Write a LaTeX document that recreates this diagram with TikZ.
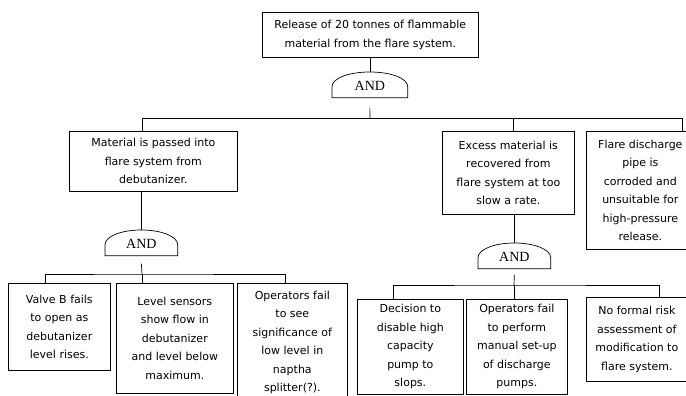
\documentclass[tikz,border=0pt]{standalone}
\usepackage{fontspec}
\newfontfamily\boxfont{DejaVu Sans}
\newfontfamily\gatefont{Liberation Serif}
\newcommand\gatelabel[1]{\raisebox{-1.5pt}[\height][\depth]{#1}}
\begin{document}
\begin{tikzpicture}[x=1pt,y=-1pt,
  line width=0.7pt,
  event/.style={draw, anchor=north west, align=center, inner sep=0pt,
    font=\boxfont\fontsize{11}{18.5}\selectfont},
  gate/.style={anchor=north west, inner sep=0pt,
    font=\gatefont\fontsize{14}{16}\selectfont},
  wire/.style={draw, line width=0.7pt},
  ]
\useasboundingbox (0,0) rectangle (686,396);
\clip (0,0) rectangle (686,396);

% top event
\node[event, minimum width=216pt, minimum height=45pt] (top) at (262,12)
  {Release of 20 tonnes of flammable\\material from the flare system.};
\node[gate, minimum width=75pt, minimum height=25pt] (g1) at (332,72) {\gatelabel{AND}};

% second level
\node[event, minimum width=168pt, minimum height=60pt] (mat) at (69,131)
  {Material is passed into\\flare system from\\debutanizer.};
\node[event, minimum width=132pt, minimum height=83pt] (exc) at (442,131)
  {Excess material is\\recovered from\\flare system at too\\slow a rate.};
\node[event, minimum width=108pt, minimum height=118pt] (flr) at (586,131)
  {Flare discharge\\pipe is\\corroded and\\unsuitable for\\high-pressure\\release.};
\node[gate, minimum width=72pt, minimum height=25pt] (g2) at (105,230) {\gatelabel{AND}};
\node[gate, minimum width=72pt, minimum height=25pt] (g3) at (478,243) {\gatelabel{AND}};

% basic events, left branch
\node[event, minimum width=102pt, minimum height=87pt] (b1) at (8,283)
  {Valve B fails\\to open as\\debutanizer\\level rises.};
\node[event, minimum width=117pt, minimum height=110pt] (b2) at (116,283)
  {Level sensors\\show flow in\\debutanizer\\and level below\\maximum.};
\node[event, minimum width=110pt, minimum height=118pt] (b3) at (237,283)
  {Operators fail\\to see\\significance of\\low level in\\naptha\\splitter(?).};

% basic events, right branch
\node[event, minimum width=106pt, minimum height=95pt] (d1) at (357,299)
  {Decision to\\disable high\\capacity\\pump to\\slops.};
\node[event, minimum width=101pt, minimum height=95pt] (d2) at (466,299)
  {Operators fail\\to perform\\manual set-up\\of discharge\\pumps.};
\node[event, minimum width=101pt, minimum height=84pt] (d3) at (586,297)
  {No formal risk\\assessment of\\modification to\\flare system.};

% AND gate outlines: straight sides, domed top, flat base
\foreach \g in {g1,g2,g3}
  \draw (\g.south west) -- ([yshift=11pt]\g.south west)
    .. controls ([yshift=-6.5pt]\g.north west) and ([xshift=16pt]\g.north west) .. (\g.north)
    .. controls ([xshift=-16pt]\g.north east) and ([yshift=-6.5pt]\g.north east) .. ([yshift=11pt]\g.south east)
    -- (\g.south east) -- cycle;

% bus junctions
\coordinate (j1) at (370,118.5);
\coordinate (j2) at (142,274);
\coordinate (j3) at (514,285);

% event-to-gate links
\draw[wire] (top.south -| g1.north) -- (g1.north);
\draw[wire] (mat.south -| g2.north) -- (g2.north);
\draw[wire] (exc.south -| g3.north) -- (g3.north);

% gate outputs to buses
\draw[wire] ([yshift=-10pt]g1.south) -- (j1);
\draw[wire] ([yshift=-8pt]g2.south) -- (j2);
\draw[wire] ([yshift=-6pt]g3.south) -- (j3);

% top bus
\draw[wire] ([xshift=-11pt]mat.north) |- (j1) -| ([xshift=42pt]flr.north);
\draw[wire] ([xshift=5pt]exc.north) |- (j1);

% left bus
\draw[wire] ([xshift=-14pt]b1.north) |- (j2) -| ([xshift=-7pt]b3.north);
\draw[wire] (j2) -- (j2 |- b2.north);

% right bus
\draw[wire] ([xshift=-17pt]d1.north) |- (j3) -| ([xshift=22.5pt]d3.north);
\draw[wire] (j3) -- (j3 |- d2.north);
\end{tikzpicture}
\end{document}
